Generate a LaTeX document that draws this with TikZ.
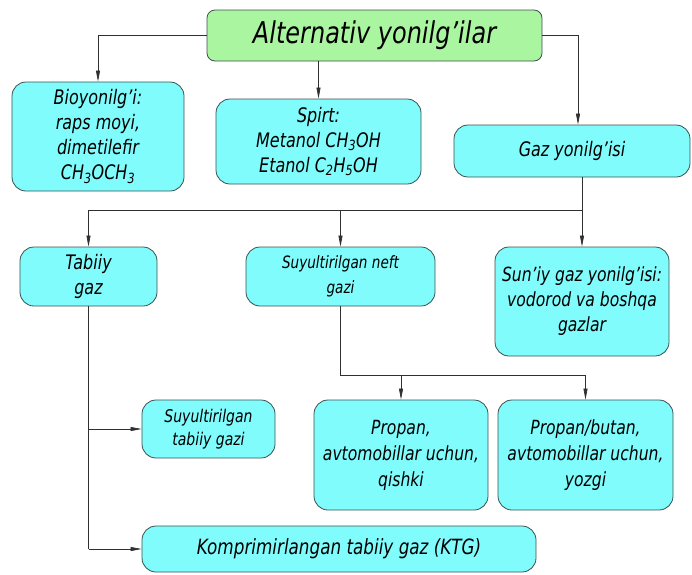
\documentclass[tikz,border=0pt]{standalone}
\usepackage{fontspec}
\setmainfont{DejaVu Sans}[FakeStretch=0.8]
\usetikzlibrary{arrows.meta,calc}
\definecolor{boxcyan}{HTML}{80FCFC}
\definecolor{boxgreen}{HTML}{AAF5A0}
\definecolor{boxline}{HTML}{3C5050}
\definecolor{conline}{HTML}{303030}
\begin{document}
\begin{tikzpicture}[x=1pt,y=1pt,
  box/.style={draw=boxline, line width=0.8pt, fill=boxcyan, rounded corners=14pt,
    align=center, inner sep=2pt, font=\itshape\fontsize{20}{25}\selectfont},
  topbox/.style={box, fill=boxgreen, rounded corners=8pt, font=\itshape\fontsize{30}{34}\selectfont},
  conn/.style={draw=conline, line width=0.7pt},
  arr/.style={conn, -{Triangle[length=11pt,width=4pt]}}]
\useasboundingbox (0,0) rectangle (692,-574);
% boxes
\node[topbox, minimum width=335pt, minimum height=51pt] (top) at (374.5,-35.5) {Alternativ yonilg'ilar};
\node[box, minimum width=172pt, minimum height=109pt] (bio) at (98,-136.5) {Bioyonilg'i:\\raps moyi,\\dimetilefir\\CH\textsubscript{3}OCH\textsubscript{3}};
\node[box, minimum width=205pt, minimum height=85pt] (spirt) at (318.5,-141.5) {Spirt:\\Metanol CH\textsubscript{3}OH\\Etanol C\textsubscript{2}H\textsubscript{5}OH};
\node[box, minimum width=236pt, minimum height=52pt] (gaz) at (572,-151) {Gaz yonilg'isi};
\node[box, minimum width=137pt, minimum height=59pt] (tab) at (88.5,-276.5) {Tabiiy\\gaz};
\node[box, minimum width=189pt, minimum height=59pt, font=\itshape\fontsize{17}{25}\selectfont] (neft) at (340.5,-276.5) {Suyultirilgan neft\\gazi};
\node[box, minimum width=174pt, minimum height=109pt, font=\itshape\fontsize{19.5}{25}\selectfont] (sun) at (582,-301.5) {Sun'iy gaz yonilg'isi:\\vodorod va boshqa\\gazlar};
\node[box, minimum width=133pt, minimum height=58pt, font=\itshape\fontsize{17.5}{23}\selectfont] (ltg) at (208.5,-429) {Suyultirilgan\\tabiiy gazi};
\node[box, minimum width=174pt, minimum height=110pt, font=\itshape\fontsize{19.5}{26}\selectfont] (prop) at (401,-455) {Propan,\\avtomobillar uchun,\\qishki};
\node[box, minimum width=175pt, minimum height=110pt, font=\itshape\fontsize{19.5}{26}\selectfont] (but) at (585.5,-455) {Propan/butan,\\avtomobillar uchun,\\yozgi};
\node[box, minimum width=394pt, minimum height=46pt, font=\itshape\fontsize{21}{25}\selectfont] (ktg) at (339,-549) {Komprimirlangan tabiiy gaz (KTG)};
% helper coordinates
\coordinate (bus1) at (0,-210);
\coordinate (bus2) at (0,-375);
% connectors from top
\draw[arr] (top.west) -| (bio.north);
\draw[arr] (top.south -| spirt.north) -- (spirt.north);
\draw[arr] (top.east) -| ([xshift=6pt]gaz.north);
% gas split
\draw[conn] (gaz.south -| sun.north) -- (sun.north |- bus1);
\draw[conn] (tab.north |- bus1) -- (sun.north |- bus1);
\draw[arr] (tab.north |- bus1) -- (tab.north);
\draw[arr] (neft.north |- bus1) -- (neft.north);
\draw[arr] (sun.north |- bus1) -- (sun.north);
% neft split
\draw[conn] (neft.south) -- (neft.south |- bus2) -- (but.north |- bus2);
\draw[arr] (prop.north |- bus2) -- (prop.north);
\draw[arr] (but.north |- bus2) -- (but.north);
% tabiiy gaz branches
\draw[conn] (tab.south) -- (tab.south |- ktg.west);
\draw[arr] (tab.south |- ltg.west) -- (ltg.west);
\draw[arr] (tab.south |- ktg.west) -- (ktg.west);
\end{tikzpicture}
\end{document}
